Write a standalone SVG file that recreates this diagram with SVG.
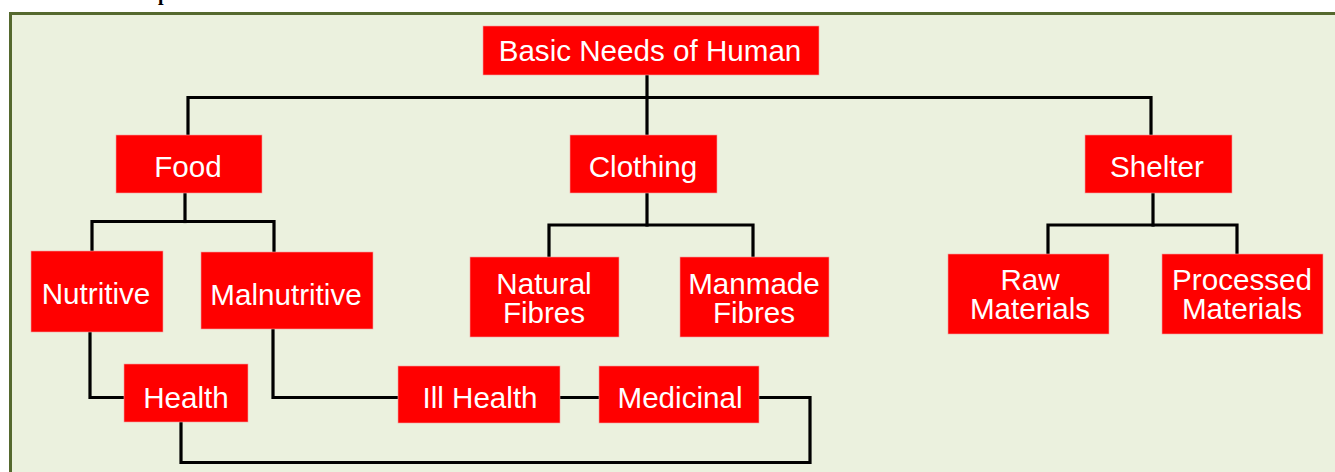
<svg xmlns="http://www.w3.org/2000/svg" width="1335" height="472" viewBox="0 0 1335 472">
<style>
.box{fill:#ff0000;stroke:#f4a0a0;stroke-width:0.6}
.lbl{font-family:"Liberation Sans",Arial,sans-serif;font-size:29.6px;fill:#ffffff;text-anchor:middle}
.ln{fill:none;stroke:#000000;stroke-width:3.2;stroke-linejoin:miter;stroke-linecap:square}
</style>
<rect x="0" y="0" width="1335" height="472" fill="#ffffff"/>
<text x="158" y="0" font-family="'Liberation Serif',serif" font-weight="bold" font-size="20" fill="#000">p</text>
<rect x="10.5" y="13.5" width="1340" height="470" fill="#ebf1de" stroke="#55692e" stroke-width="3"/>
<g id="connectors">
<polyline class="ln" points="647,75 647,135"/>
<polyline class="ln" points="188,135 188,97.5 1151,97.5 1151,135"/>
<polyline class="ln" points="185,193 185,221.5"/>
<polyline class="ln" points="92,252 92,221.5 274,221.5 274,252"/>
<polyline class="ln" points="647,193 647,225"/>
<polyline class="ln" points="549,257 549,225 753,225 753,257"/>
<polyline class="ln" points="1153,193 1153,225"/>
<polyline class="ln" points="1048,254 1048,225 1237,225 1237,254"/>
<polyline class="ln" points="90,332 90,397.5 124,397.5"/>
<polyline class="ln" points="273,329 273,397.5 398,397.5"/>
<polyline class="ln" points="560,397.5 599,397.5"/>
<polyline class="ln" points="759,397.5 810,397.5 810,462.5 181,462.5 181,422"/>
</g>
<g id="root"><rect class="box" x="483" y="26" width="336" height="49"/><text class="lbl" x="650" y="61">Basic Needs of Human</text></g>
<g id="food"><rect class="box" x="116" y="135" width="146" height="58"/><text class="lbl" x="188" y="176.5">Food</text></g>
<g id="clothing"><rect class="box" x="570" y="135" width="147" height="58"/><text class="lbl" x="643" y="176.5">Clothing</text></g>
<g id="shelter"><rect class="box" x="1085" y="135" width="147" height="58"/><text class="lbl" x="1157" y="176.5">Shelter</text></g>
<g id="nutritive"><rect class="box" x="31" y="251" width="132" height="81"/><text class="lbl" x="96" y="303.5">Nutritive</text></g>
<g id="malnutritive"><rect class="box" x="201" y="252" width="172" height="77"/><text class="lbl" x="286" y="304.5">Malnutritive</text></g>
<g id="natural"><rect class="box" x="470" y="257" width="149" height="80"/><text class="lbl" x="544" y="293.5">Natural</text><text class="lbl" x="544" y="322.5">Fibres</text></g>
<g id="manmade"><rect class="box" x="680" y="257" width="149" height="80"/><text class="lbl" x="754" y="293.5">Manmade</text><text class="lbl" x="754" y="322.5">Fibres</text></g>
<g id="raw"><rect class="box" x="948" y="254" width="161" height="80"/><text class="lbl" x="1030" y="290">Raw</text><text class="lbl" x="1030" y="319">Materials</text></g>
<g id="processed"><rect class="box" x="1162" y="254" width="161" height="80"/><text class="lbl" x="1242" y="290">Processed</text><text class="lbl" x="1242" y="319">Materials</text></g>
<g id="health"><rect class="box" x="124" y="364" width="124" height="58"/><text class="lbl" x="186" y="408">Health</text></g>
<g id="illhealth"><rect class="box" x="398" y="366" width="162" height="57"/><text class="lbl" x="480" y="408">Ill Health</text></g>
<g id="medicinal"><rect class="box" x="599" y="366" width="160" height="57"/><text class="lbl" x="680" y="408">Medicinal</text></g>
</svg>
